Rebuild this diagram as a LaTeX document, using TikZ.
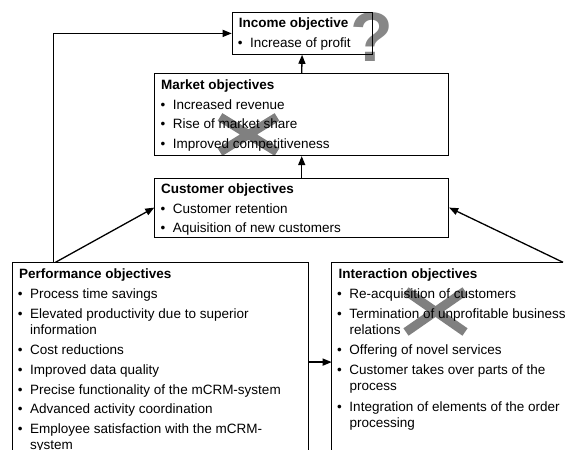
\documentclass[tikz,border=0pt]{standalone}
\usepackage{fontspec}
\setmainfont{Liberation Sans}
\usetikzlibrary{arrows.meta,calc}
\definecolor{markgray}{RGB}{128,128,128}
\definecolor{qgray}{RGB}{135,135,135}
\newcommand\itm{\llap{\textbullet\hspace{7.6bp}}}
\begin{document}
\begin{tikzpicture}[x=1bp,y=-1bp,
  box/.style={draw=black, line width=0.8bp, rectangle, inner sep=0pt, anchor=north west},
  txt/.style={anchor=base west, inner sep=0pt, font=\fontsize{13.5bp}{16bp}\selectfont},
  ttl/.style={anchor=base west, inner sep=0pt, font=\fontsize{13.5bp}{16bp}\selectfont\bfseries},
  arr/.style={line width=1.3bp, -{Triangle[length=9bp,width=7bp]}},
  cross/.style={draw=markgray, line width=9bp}]
\useasboundingbox (0,0) rectangle (581,450);
\begin{scope}
\clip (0,0) rectangle (581,450);
% question mark and crosses (behind)
\node[inner sep=0pt, anchor=base, text=qgray, font=\fontsize{70bp}{70bp}\selectfont\bfseries] (q) at (371.7,61.5) {?};
\draw[cross] (220,117) -- (277,152) (220,152) -- (277,117);
\draw[cross] (406,291) -- (465,332) (406,332) -- (465,291);
% boxes
\node[box, minimum width=140bp, minimum height=42bp] (inc) at (231.7,12) {};
\node[box, minimum width=294bp, minimum height=82bp] (mkt) at (154.3,73.3) {};
\node[box, minimum width=294bp, minimum height=59bp] (cus) at (154.3,177.7) {};
\node[box, minimum width=296.6bp, minimum height=198.8bp] (perf) at (11.7,262.3) {};
\node[box, draw=none, minimum width=260bp, minimum height=198.8bp] (inter) at (331.7,262.3) {};
\coordinate (interR) at (563,262.3);
\draw[line width=0.8bp] (interR) -- (inter.north west) -- (inter.south west);
% texts
\node[ttl] (incT) at (238.7,27.5) {Income objective};
\node[txt] (inc1) at (250,47.5) {\itm Increase of profit};
\node[ttl] (mktT) at (161,89.5) {Market objectives};
\foreach \y/\t [count=\i] in {109.5/\itm Increased revenue, 129/\itm Rise of market share, 148.5/\itm Improved competitiveness}
  \node[txt] (mkt\i) at (172.7,\y) {\t};
\node[ttl] (cusT) at (161,194) {Customer objectives};
\foreach \y/\t [count=\i] in {213.5/\itm Customer retention, 232.5/\itm Aquisition of new customers}
  \node[txt] (cus\i) at (172.7,\y) {\t};
\node[ttl] (perfT) at (19,279) {Performance objectives};
\foreach \y/\t [count=\i] in {298.5/\itm Process time savings, 318.5/\itm Elevated productivity due to superior, 334.5/information, 354.5/\itm Cost reductions, 374.5/\itm Improved data quality, 394/\itm Precise functionality of the mCRM-system, 413.5/\itm Advanced activity coordination, 433/\itm Employee satisfaction with the mCRM-, 449/system}
  \node[txt] (perf\i) at (30,\y) {\t};
\node[ttl] (interT) at (338.3,279) {Interaction objectives};
\foreach \y/\t [count=\i] in {298.5/\itm Re-acquisition of customers, 318.5/\itm Termination of unprofitable business, 334.5/relations, 354.5/\itm Offering of novel services, 374.5/\itm Customer takes over parts of the, 390.5/process, 411.5/\itm Integration of elements of the order, 427/processing}
  \node[txt] (inter\i) at (349.3,\y) {\t};
% connectors
\coordinate (pL) at (53.3,262.3);
\coordinate (pD) at (55.5,262.3);
\draw[arr] (mkt.north) -- (inc.south);
\draw[arr] (cus.north) -- (mkt.south);
\draw[arr] (pD) -- (cus.west);
\draw[arr] (interR) -- (cus.east);
\draw[arr] (pL) |- (inc.west);
\draw[arr] (perf.east) -- (inter.west);
\end{scope}
\end{tikzpicture}
\end{document}
